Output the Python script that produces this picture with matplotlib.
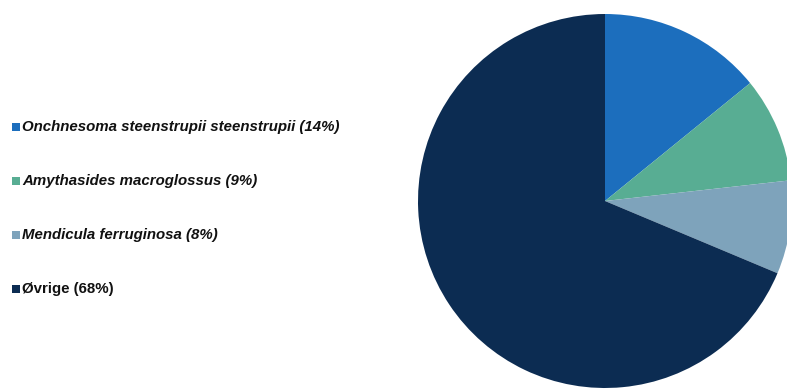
import matplotlib.pyplot as plt

# Artsfordeling
arter = ['Onchnesoma steenstrupii steenstrupii', 'Amythasides macroglossus',
         'Mendicula ferruginosa', 'Øvrige']
andel = [14, 9, 8, 68]
farger = ['#1c6ebd', '#58ad93', '#7ea3bb', '#0c2c52']
kursiv = [True, True, True, False]

W, H = 787, 389
fig = plt.figure(figsize=(W / 100, H / 100), dpi=100)
ax = fig.add_axes([0, 0, 1, 1])

# Kakediagram, start øverst og med klokka
ax.pie(andel, colors=farger, startangle=90, counterclock=False,
       center=(605, H - 201), radius=187,
       wedgeprops=dict(linewidth=0))

ax.set_xlim(0, W)
ax.set_ylim(0, H)
ax.set_aspect('auto')
ax.axis('off')

# Tegnforklaring til venstre
y0, dy = 127, 54
for i, (navn, p, c, it) in enumerate(zip(arter, andel, farger, kursiv)):
    y = H - (y0 + i * dy)
    ax.scatter(16, y, marker='s', s=36, color=c, linewidths=0)
    ax.text(22, y, f'{navn} ({p}%)', va='center', ha='left',
            fontsize=10.8, fontweight='bold',
            fontstyle='italic' if it else 'normal',
            family=['Liberation Sans', 'DejaVu Sans'], color='#111111')

fig.savefig('out.png', dpi=100)
